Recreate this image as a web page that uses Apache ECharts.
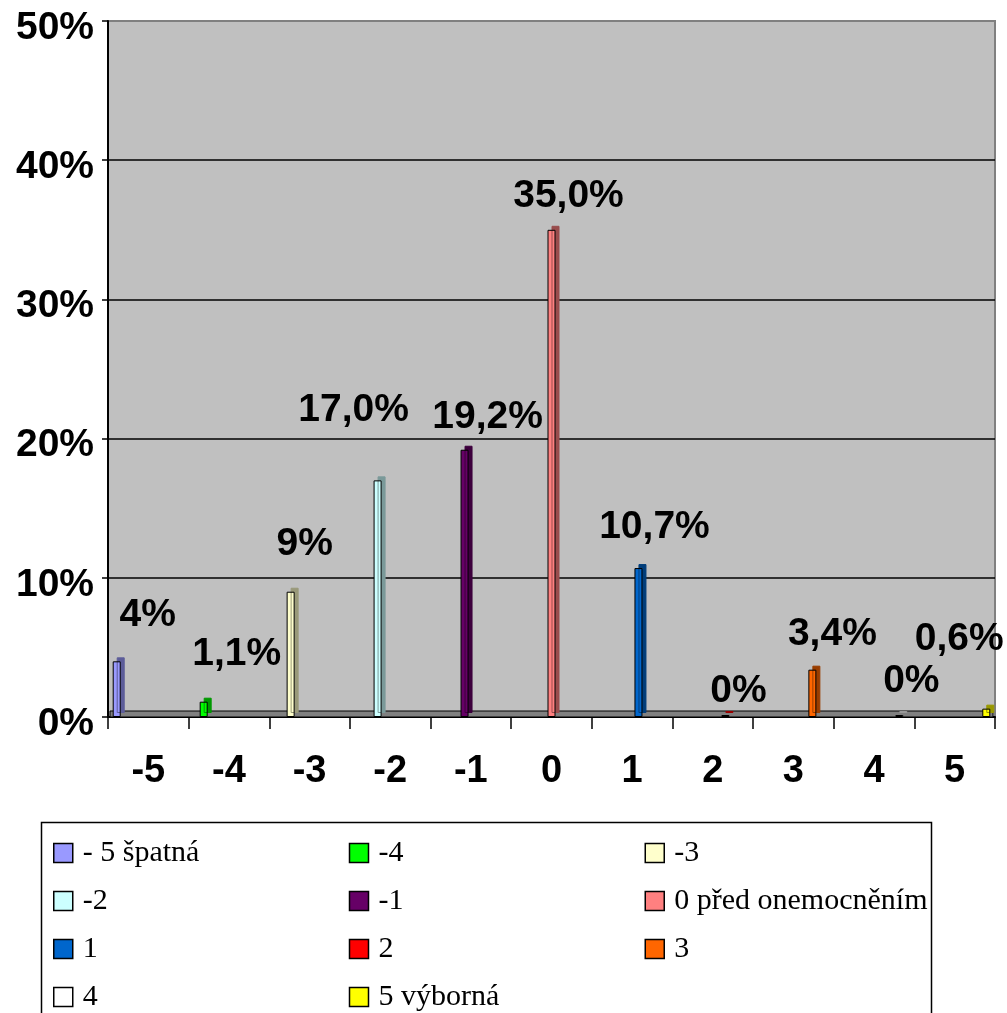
<!DOCTYPE html>
<html>
<head>
<meta charset="utf-8">
<script src="https://cdn.jsdelivr.net/npm/echarts@6/dist/echarts.min.js"></script>
<style>
  html, body { margin: 0; padding: 0; background: #fff; }
  #chart { width: 1007px; height: 1013px; }
</style>
</head>
<body>
<div id="chart"></div>
<script>
// categories on the x axis
var categories = ['-5', '-4', '-3', '-2', '-1', '0', '1', '2', '3', '4', '5']
// one series per category (as in the original Excel sheet)
var seriesNames = ['- 5 špatná', '-4', '-3', '-2', '-1', '0 před onemocněním', '1', '2', '3', '4', '5 výborná']
var values = [4, 1.1, 9, 17.0, 19.2, 35.0, 10.7, 0, 3.4, 0, 0.6]
var valueLabels = ['4%', '1,1%', '9%', '17,0%', '19,2%', '35,0%', '10,7%', '0%', '3,4%', '0%', '0,6%']
var colors = ['#9999FF', '#00FF00', '#FFFFCC', '#CCFFFF', '#660066', '#FF8080', '#0066CC', '#FF0000', '#FF6600', '#FFFFFF', '#FFFF00']
var yTicks = [0, 10, 20, 30, 40, 50]

// label nudges, labels were moved by hand in the original
var labelOffsets = [[31, -27], [33, -28], [14, -28], [-24, -51], [23, -13], [17, -14], [16, -21], [13, -4], [20, -16], [12, -14], [-27, -50]]

function darken (hex, f) {
  var n = parseInt(hex.slice(1), 16)
  var r = Math.round(((n >> 16) & 255) * f)
  var g = Math.round(((n >> 8) & 255) * f)
  var b = Math.round((n & 255) * f)
  return 'rgb(' + r + ',' + g + ',' + b + ')'
}

var chart = echarts.init(document.getElementById('chart'))

var series = seriesNames.map(function (name, i) {
  var data = categories.map(function (c, j) {
    return j === i ? values[i] : '-'
  })
  return {
    name: name,
    type: 'bar',
    data: data,
    barWidth: 8,
    barGap: '-21%',
    barMinHeight: values[i] === 0 ? 2 : 0,
    itemStyle: {
      color: colors[i],
      borderColor: '#000',
      borderWidth: 1,
      shadowColor: darken(colors[i], 0.6),
      shadowBlur: 0,
      shadowOffsetX: 4,
      shadowOffsetY: -4
    },
    label: {
      show: true,
      position: 'top',
      distance: 0,
      offset: labelOffsets[i],
      formatter: function () { return valueLabels[i] },
      fontFamily: 'Liberation Sans, Arial, sans-serif',
      fontWeight: 'bold',
      fontSize: 39,
      color: '#000'
    },
    z: 3
  }
})

chart.setOption({
  animation: false,
  backgroundColor: '#fff',
  grid: {
    left: 108,
    right: 12,
    top: 21,
    bottom: 296,
    show: true,
    backgroundColor: '#C0C0C0',
    borderColor: '#808080',
    borderWidth: 2
  },
  xAxis: {
    type: 'category',
    data: categories,
    axisLine: { lineStyle: { color: '#000', width: 2 } },
    axisTick: { show: true, length: 12, lineStyle: { color: '#000', width: 1.5 } },
    axisLabel: {
      margin: 36,
      fontFamily: 'Liberation Sans, Arial, sans-serif',
      fontWeight: 'bold',
      fontSize: 38,
      color: '#000'
    },
    splitLine: { show: false }
  },
  yAxis: {
    type: 'value',
    min: yTicks[0],
    max: yTicks[yTicks.length - 1],
    interval: 10,
    axisLine: { show: true, lineStyle: { color: '#000', width: 2 } },
    axisTick: { show: true, length: 6, lineStyle: { color: '#000', width: 1.5 } },
    axisLabel: {
      margin: 14,
      verticalAlign: 'top',
      lineHeight: 14,
      formatter: '{value}%',
      fontFamily: 'Liberation Sans, Arial, sans-serif',
      fontWeight: 'bold',
      fontSize: 39,
      color: '#000'
    },
    splitLine: {
      show: true,
      lineStyle: { color: ['#000', '#000', '#000', '#000', '#000', '#808080'], width: 1.5 }
    }
  },
  legend: {
    data: seriesNames,
    left: 53,
    top: 834,
    width: 900,
    padding: 0,
    itemGap: 10,
    itemWidth: 19,
    itemHeight: 19,
    icon: 'rect',
    itemStyle: {
      borderColor: '#000',
      borderWidth: 1.5,
      shadowBlur: 0,
      shadowOffsetX: 0,
      shadowOffsetY: 0,
      shadowColor: 'rgba(0,0,0,0)'
    },
    textStyle: {
      fontFamily: 'Liberation Serif, Times New Roman, serif',
      fontSize: 30,
      color: '#000',
      width: 256,
      lineHeight: 38,
      padding: [0, 0, 0, 5],
      overflow: 'none'
    }
  },
  graphic: [
    {
      // 3D floor of the plot
      type: 'rect',
      z: 1,
      shape: { x: 110, y: 711, width: 883, height: 6 },
      style: { fill: '#808080', stroke: '#000', lineWidth: 1 }
    },
    {
      // legend frame
      type: 'rect',
      z: 1,
      shape: { x: 41.5, y: 822.5, width: 890, height: 200 },
      style: { fill: 'none', stroke: '#000', lineWidth: 1.5 }
    }
  ],
  series: series
})
</script>
</body>
</html>
